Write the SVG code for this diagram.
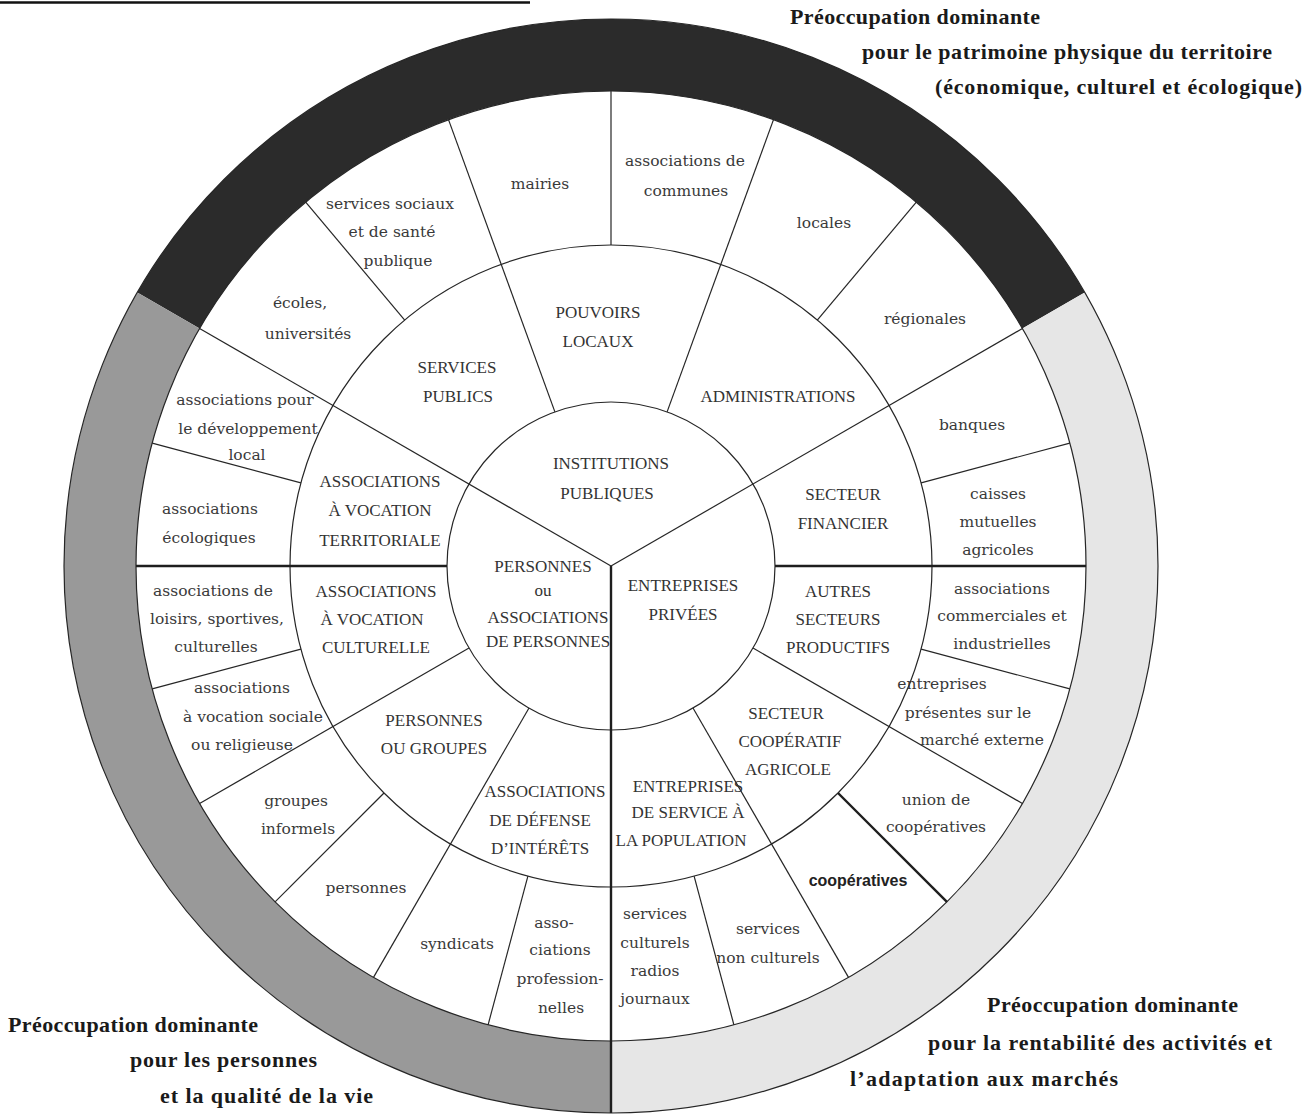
<svg xmlns="http://www.w3.org/2000/svg" width="1305" height="1116" viewBox="0 0 1305 1116">
<style>
.ln{stroke:#262626;stroke-width:1.2;fill:none}
.thk{stroke:#1e1e1e;stroke-width:2.4;fill:none}
.lc{font-family:"DejaVu Serif","Liberation Serif",serif;font-size:15.5px;fill:#3a3a3a;text-anchor:middle}
.uc{font-family:"Liberation Serif",serif;font-size:17px;fill:#333;text-anchor:middle}
.coop{font-family:"Liberation Sans",sans-serif;font-weight:bold;font-size:16px;fill:#222;text-anchor:middle}
.corner{font-family:"Liberation Serif",serif;font-weight:bold;font-size:22px;fill:#1a1a1a}
</style>
<rect width="1305" height="1116" fill="#fff"/>
<line x1="0" y1="2.5" x2="530" y2="2.5" stroke="#111" stroke-width="2.5"/>

<g id="band">
<path d="M137.3 292.5 A547 547 0 0 1 1084.7 292.5 L1022.4 328.5 A475 475 0 0 0 199.6 328.5 Z" fill="#2b2b2b"/>
<path d="M1084.7 292.5 A547 547 0 0 1 611 1113 L611 1041 A475 475 0 0 0 1022.4 328.5 Z" fill="#e6e6e6"/>
<path d="M611 1113 A547 547 0 0 1 137.3 292.5 L199.6 328.5 A475 475 0 0 0 611 1041 Z" fill="#999"/>
<circle cx="611" cy="566" r="547" class="ln"/>
<circle cx="611" cy="566" r="475" class="ln"/>
</g>

<g id="connectors">
<circle cx="611" cy="566" r="321" class="ln"/>
<circle cx="611" cy="566" r="164" class="ln"/>
<line x1="611" y1="566" x2="199.6" y2="328.5" class="ln"/>
<line x1="611" y1="566" x2="1022.4" y2="328.5" class="ln"/>
<line x1="611" y1="566" x2="611" y2="1113" class="thk"/>
<line x1="775" y1="566" x2="1086" y2="566" class="thk"/>
<line x1="447" y1="566" x2="136" y2="566" class="thk"/>
<line x1="753" y1="648" x2="1022.4" y2="803.5" class="ln"/>
<line x1="693" y1="708" x2="848.5" y2="977.4" class="ln"/>
<line x1="529" y1="708" x2="373.5" y2="977.4" class="ln"/>
<line x1="469" y1="648" x2="199.6" y2="803.5" class="ln"/>
<line x1="554.9" y1="411.9" x2="448.5" y2="119.6" class="ln"/>
<line x1="667.1" y1="411.9" x2="773.5" y2="119.6" class="ln"/>
<line x1="921.1" y1="649.1" x2="1069.8" y2="688.9" class="ln"/>
<line x1="921.1" y1="482.9" x2="1069.8" y2="443.1" class="ln"/>
<line x1="838" y1="793" x2="946.9" y2="901.9" class="thk"/>
<line x1="694.1" y1="876.1" x2="733.9" y2="1024.8" class="ln"/>
<line x1="527.9" y1="876.1" x2="488.1" y2="1024.8" class="ln"/>
<line x1="384" y1="793" x2="275.1" y2="901.9" class="ln"/>
<line x1="300.9" y1="649.1" x2="152.2" y2="688.9" class="ln"/>
<line x1="300.9" y1="482.9" x2="152.2" y2="443.1" class="ln"/>
<line x1="404.7" y1="320.1" x2="305.7" y2="202.1" class="ln"/>
<line x1="611" y1="245" x2="611" y2="91" class="ln"/>
<line x1="817.3" y1="320.1" x2="916.3" y2="202.1" class="ln"/>
</g>

<g id="institutions-publiques"><text class="uc" x="611" y="469">INSTITUTIONS</text><text class="uc" x="607" y="499">PUBLIQUES</text></g>
<g id="personnes-associations"><text class="uc" x="543" y="572">PERSONNES</text><text class="uc" x="543" y="596">ou</text><text class="uc" x="548" y="623">ASSOCIATIONS</text><text class="uc" x="548" y="647">DE PERSONNES</text></g>
<g id="entreprises-privees"><text class="uc" x="683" y="591">ENTREPRISES</text><text class="uc" x="683" y="620">PRIVÉES</text></g>

<g id="pouvoirs-locaux"><text class="uc" x="598" y="318">POUVOIRS</text><text class="uc" x="598" y="347">LOCAUX</text></g>
<g id="services-publics"><text class="uc" x="457" y="373">SERVICES</text><text class="uc" x="458" y="402">PUBLICS</text></g>
<g id="administrations"><text class="uc" x="778" y="402">ADMINISTRATIONS</text></g>
<g id="secteur-financier"><text class="uc" x="843" y="500">SECTEUR</text><text class="uc" x="843" y="529">FINANCIER</text></g>
<g id="autres-secteurs"><text class="uc" x="838" y="597">AUTRES</text><text class="uc" x="838" y="625">SECTEURS</text><text class="uc" x="838" y="653">PRODUCTIFS</text></g>
<g id="secteur-cooperatif"><text class="uc" x="786" y="719">SECTEUR</text><text class="uc" x="790" y="747">COOPÉRATIF</text><text class="uc" x="788" y="775">AGRICOLE</text></g>
<g id="entreprises-service"><text class="uc" x="688" y="792">ENTREPRISES</text><text class="uc" x="688" y="818">DE SERVICE À</text><text class="uc" x="681" y="846">LA POPULATION</text></g>
<g id="assoc-territoriale"><text class="uc" x="380" y="487">ASSOCIATIONS</text><text class="uc" x="380" y="516">À VOCATION</text><text class="uc" x="380" y="546">TERRITORIALE</text></g>
<g id="assoc-culturelle"><text class="uc" x="376" y="597">ASSOCIATIONS</text><text class="uc" x="372" y="625">À VOCATION</text><text class="uc" x="376" y="653">CULTURELLE</text></g>
<g id="personnes-groupes"><text class="uc" x="434" y="726">PERSONNES</text><text class="uc" x="434" y="754">OU GROUPES</text></g>
<g id="assoc-defense"><text class="uc" x="545" y="797">ASSOCIATIONS</text><text class="uc" x="540" y="826">DE DÉFENSE</text><text class="uc" x="540" y="854">D’INTÉRÊTS</text></g>

<g id="mairies"><text class="lc" x="540" y="189">mairies</text></g>
<g id="services-sociaux"><text class="lc" x="390" y="209">services sociaux</text><text class="lc" x="392" y="237">et de santé</text><text class="lc" x="398" y="266">publique</text></g>
<g id="ecoles"><text class="lc" x="300" y="308">écoles,</text><text class="lc" x="308" y="339">universités</text></g>
<g id="assoc-communes"><text class="lc" x="685" y="166">associations de</text><text class="lc" x="686" y="196">communes</text></g>
<g id="locales"><text class="lc" x="824" y="228">locales</text></g>
<g id="regionales"><text class="lc" x="925" y="324">régionales</text></g>
<g id="banques"><text class="lc" x="972" y="430">banques</text></g>
<g id="caisses"><text class="lc" x="998" y="499">caisses</text><text class="lc" x="998" y="527">mutuelles</text><text class="lc" x="998" y="555">agricoles</text></g>
<g id="assoc-commerciales"><text class="lc" x="1002" y="594">associations</text><text class="lc" x="1002" y="621">commerciales et</text><text class="lc" x="1002" y="649">industrielles</text></g>
<g id="entreprises-presentes"><text class="lc" x="942" y="689">entreprises</text><text class="lc" x="968" y="718">présentes sur le</text><text class="lc" x="982" y="745">marché externe</text></g>
<g id="union-cooperatives"><text class="lc" x="936" y="805">union de</text><text class="lc" x="936" y="832">coopératives</text></g>
<g id="cooperatives"><text class="coop" x="858" y="886">coopératives</text></g>
<g id="services-non-culturels"><text class="lc" x="768" y="934">services</text><text class="lc" x="768" y="963">non culturels</text></g>
<g id="services-culturels"><text class="lc" x="655" y="919">services</text><text class="lc" x="655" y="948">culturels</text><text class="lc" x="655" y="976">radios</text><text class="lc" x="655" y="1004">journaux</text></g>
<g id="assoc-professionnelles"><text class="lc" x="554" y="928">asso-</text><text class="lc" x="560" y="955">ciations</text><text class="lc" x="560" y="984">profession-</text><text class="lc" x="561" y="1013">nelles</text></g>
<g id="syndicats"><text class="lc" x="457" y="949">syndicats</text></g>
<g id="personnes"><text class="lc" x="366" y="893">personnes</text></g>
<g id="groupes-informels"><text class="lc" x="296" y="806">groupes</text><text class="lc" x="298" y="834">informels</text></g>
<g id="assoc-sociale"><text class="lc" x="242" y="693">associations</text><text class="lc" x="253" y="722">à vocation sociale</text><text class="lc" x="242" y="750">ou religieuse</text></g>
<g id="assoc-loisirs"><text class="lc" x="213" y="596">associations de</text><text class="lc" x="217" y="624">loisirs, sportives,</text><text class="lc" x="216" y="652">culturelles</text></g>
<g id="assoc-ecologiques"><text class="lc" x="210" y="514">associations</text><text class="lc" x="209" y="543">écologiques</text></g>
<g id="assoc-developpement"><text class="lc" x="245" y="405">associations pour</text><text class="lc" x="248" y="434">le développement</text><text class="lc" x="247" y="460">local</text></g>

<g id="label-territoire">
<text class="corner" x="790" y="24" textLength="250" lengthAdjust="spacing">Préoccupation dominante</text>
<text class="corner" x="862" y="59" textLength="410" lengthAdjust="spacing">pour le patrimoine physique du territoire</text>
<text class="corner" x="935" y="94" textLength="367" lengthAdjust="spacing">(économique, culturel et écologique)</text>
</g>
<g id="label-personnes">
<text class="corner" x="8" y="1032" textLength="250" lengthAdjust="spacing">Préoccupation dominante</text>
<text class="corner" x="130" y="1067" textLength="187" lengthAdjust="spacing">pour les personnes</text>
<text class="corner" x="160" y="1103" textLength="213" lengthAdjust="spacing">et la qualité de la vie</text>
</g>
<g id="label-rentabilite">
<text class="corner" x="987" y="1012" textLength="251" lengthAdjust="spacing">Préoccupation dominante</text>
<text class="corner" x="928" y="1050" textLength="344" lengthAdjust="spacing">pour la rentabilité des activités et</text>
<text class="corner" x="850" y="1086" textLength="268" lengthAdjust="spacing">l’adaptation aux marchés</text>
</g>
</svg>
